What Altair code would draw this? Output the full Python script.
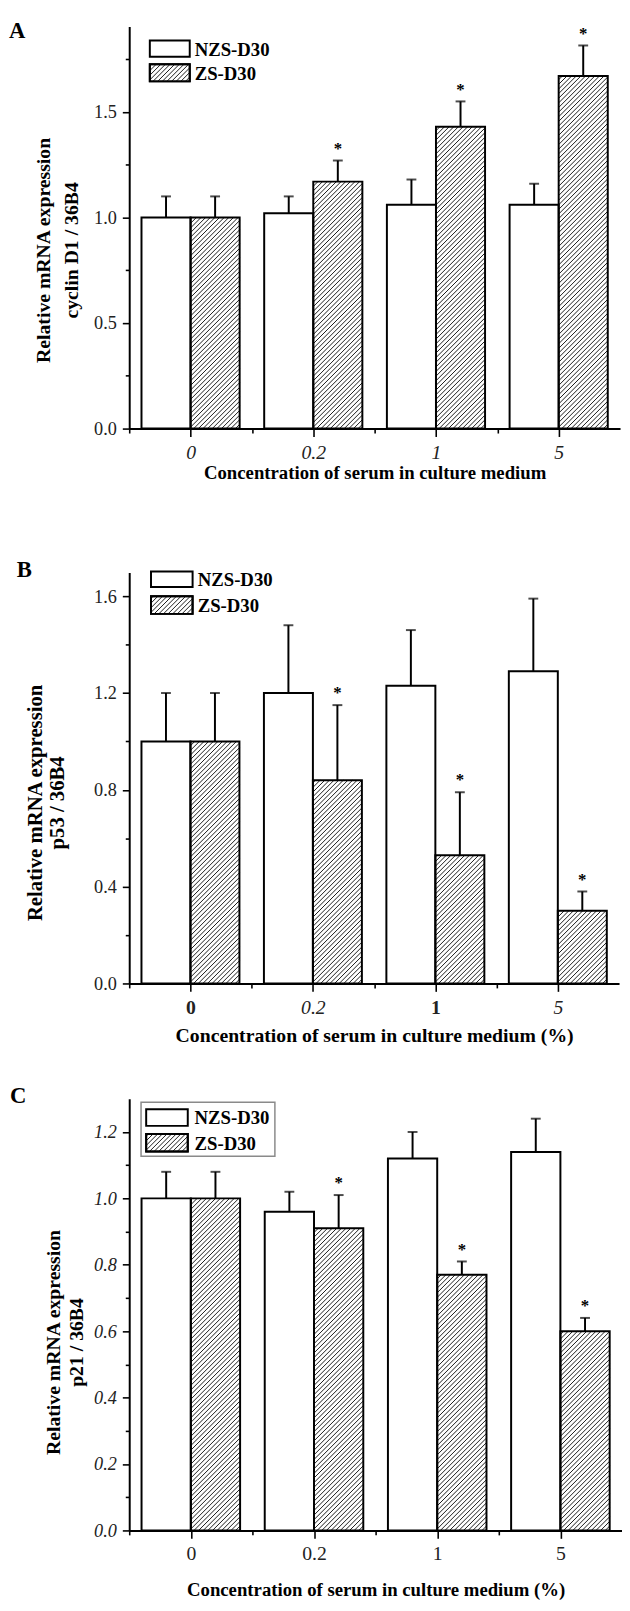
import json
import math
import altair as alt
import pandas as pd

# ---------------- data ----------------
groups = ["0", "0.2", "1", "5"]
series = ["NZS-D30", "ZS-D30"]

# Panel A: cyclin D1 / 36B4
a_nzs = [1.00, 1.02, 1.06, 1.06]
a_nzs_sd = [0.10, 0.08, 0.12, 0.10]
a_zs = [1.00, 1.17, 1.43, 1.67]
a_zs_sd = [0.10, 0.10, 0.12, 0.145]
a_star = [0, 1, 1, 1]

# Panel B: p53 / 36B4
b_nzs = [1.00, 1.20, 1.23, 1.29]
b_nzs_sd = [0.20, 0.28, 0.23, 0.30]
b_zs = [1.00, 0.84, 0.53, 0.30]
b_zs_sd = [0.20, 0.31, 0.26, 0.08]
b_star = [0, 1, 1, 1]

# Panel C: p21 / 36B4
c_nzs = [1.00, 0.96, 1.12, 1.14]
c_nzs_sd = [0.08, 0.06, 0.08, 0.10]
c_zs = [1.00, 0.91, 0.77, 0.60]
c_zs_sd = [0.08, 0.10, 0.04, 0.04]
c_star = [0, 1, 1, 1]

a_yticks = [0, 0.25, 0.5, 0.75, 1.0, 1.25, 1.5, 1.75]
b_yticks = [0, 0.2, 0.4, 0.6, 0.8, 1.0, 1.2, 1.4, 1.6]
c_yticks = [0, 0.1, 0.2, 0.3, 0.4, 0.5, 0.6, 0.7, 0.8, 0.9, 1.0, 1.1, 1.2]

FONT = "Liberation Serif"
BW = 0.4          # bar width in band units
HATCH = 4.7       # horizontal hatch spacing (px)


def hatch_segments(wpx, hpx, d=HATCH):
    """45-degree '/' hatch lines inside a wpx x hpx box (y up)."""
    segs = []
    n0 = math.ceil(-wpx / d)
    n1 = math.floor(hpx / d)
    for n in range(n0, n1 + 1):
        c = n * d + 1.5
        xs = max(0.0, -c)
        xe = min(wpx, hpx - c)
        if xe - xs > 0.4:
            segs.append((xs, xs + c, xe, xe + c))
    return segs


def panel(letter, nzs, nzs_sd, zs, zs_sd, star, ymax, yticks, ystep, W, H,
          ytitle, xtitle, cell, leg, xstyle, ystyle, titles):
    kx = W / 4.0
    ky = H / ymax
    xs = alt.Scale(domain=[0, 4], nice=False, zero=False)
    ys = alt.Scale(domain=[0, ymax], nice=False, zero=False)

    rows = []
    for i, g in enumerate(groups):
        for s in range(2):
            v = (nzs if s == 0 else zs)[i]
            sd = (nzs_sd if s == 0 else zs_sd)[i]
            x0 = i + 0.5 - BW if s == 0 else i + 0.5
            rows.append(dict(group=g, series=series[s], x0=x0, x1=x0 + BW,
                             xc=x0 + BW / 2, val=v, top=v + sd, zero=0.0,
                             star="*" if (s == 1 and star[i]) else ""))
    df = pd.DataFrame(rows)

    hrows = []
    for r in rows:
        if r["series"] != series[1]:
            continue
        for (X1, Y1, X2, Y2) in hatch_segments(BW * kx, r["val"] * ky):
            hrows.append(dict(hx=r["x0"] + X1 / kx, hy=Y1 / ky,
                              hx2=r["x0"] + X2 / kx, hy2=Y2 / ky))
    hdf = pd.DataFrame(hrows)

    major_y = f"abs(datum.value/{ystep} - round(datum.value/{ystep})) < 0.001"
    yaxis = alt.Axis(
        values=yticks, labelExpr=f"{major_y} ? format(datum.value, '.1f') : ''",
        tickSize={"condition": {"test": major_y, "value": 7}, "value": 4},
        tickWidth=1.6, tickColor="black", domainWidth=2, domainColor="black",
        labelFont=FONT, labelFontSize=18.5, labelColor="#222",
        labelFontStyle=ystyle, labelPadding=6,
        title=ytitle, titleFont=FONT, titleFontSize=titles["yfs"],
        titleFontWeight="bold",
        titleColor="black", titleAngle=270, titleAlign="center",
        titleBaseline="middle", titleX=titles["ytx"], titleY=titles["yty"],
        titleLineHeight=titles["ylh"], grid=False)
    lab_arr = json.dumps(groups)
    major_x = "datum.value % 1 == 0.5"
    xaxis = alt.Axis(
        values=[0, 0.5, 1, 1.5, 2, 2.5, 3, 3.5],
        labelExpr=f"{major_x} ? {lab_arr}[floor(datum.value)] : ''",
        tickSize={"condition": {"test": major_x, "value": 8}, "value": 4.5},
        tickWidth=1.6, tickColor="black", domainWidth=2, domainColor="black",
        labelFont=FONT, labelFontSize=20, labelColor="#222",
        labelFontStyle=xstyle["style"], labelFontWeight=xstyle["weight"],
        labelPadding=xstyle["pad"], labelBaseline="middle",
        title=xtitle, titleFont=FONT, titleFontSize=titles["xfs"],
        titleFontWeight="bold", titleColor="black", titleBaseline="middle",
        titleY=titles["xty"], grid=False)

    X = lambda f: alt.X(f"{f}:Q", scale=xs, axis=xaxis)
    Y = lambda f: alt.Y(f"{f}:Q", scale=ys, axis=yaxis)

    base = alt.Chart(df)
    fills = base.mark_rect(fill="white", stroke=None).encode(
        x=X("x0"), x2="x1", y=Y("zero"), y2="val")
    hatch = alt.Chart(hdf).mark_rule(color="#1a1a1a", strokeWidth=1.0).encode(
        x=X("hx"), x2="hx2", y=Y("hy"), y2="hy2")
    outline = base.mark_rect(fillOpacity=0, stroke="black", strokeWidth=2).encode(
        x=X("x0"), x2="x1", y=Y("zero"), y2="val")
    err = base.mark_rule(color="black", strokeWidth=2).encode(
        x=X("xc"), y=Y("val"), y2="top")
    caps = base.mark_tick(color="black", orient="horizontal", size=10,
                          thickness=2).encode(x=X("xc"), y=Y("top"))
    stars = base.mark_text(font=FONT, fontSize=17, fontWeight="bold",
                           baseline="middle", dy=-12, color="black").encode(
        x=X("xc"), y=Y("top"), text="star:N")

    # legend drawn by hand (hatched swatch), pixel coordinates
    lx0, lx1 = leg["sx"]
    boxes = pd.DataFrame([
        dict(x=lx0, x2=lx1, y=leg["s1"][0], y2=leg["s1"][1]),
        dict(x=lx0, x2=lx1, y=leg["s2"][0], y2=leg["s2"][1]),
    ])
    lh = []
    for (X1, Y1, X2, Y2) in hatch_segments(lx1 - lx0, leg["s2"][1] - leg["s2"][0]):
        lh.append(dict(x=lx0 + X1, y=leg["s2"][1] - Y1, x2=lx0 + X2, y2=leg["s2"][1] - Y2))
    lhdf = pd.DataFrame(lh)
    ltext = pd.DataFrame([
        dict(x=leg["tx"], y=(leg["s1"][0] + leg["s1"][1]) / 2 + 1, t=series[0]),
        dict(x=leg["tx"], y=(leg["s2"][0] + leg["s2"][1]) / 2 + 1, t=series[1]),
    ])
    PX = lambda f: alt.X(f"{f}:Q", scale=None)
    PY = lambda f: alt.Y(f"{f}:Q", scale=None)
    layers = []
    if leg.get("frame"):
        fx0, fx1, fy0, fy1 = leg["frame"]
        frame = pd.DataFrame([dict(x=fx0, x2=fx1, y=fy0, y2=fy1)])
        layers.append(alt.Chart(frame).mark_rect(fill="white", stroke="#8a8a8a",
                                                 strokeWidth=1.5).encode(
            x=PX("x"), x2="x2", y=PY("y"), y2="y2"))
    layers += [
        alt.Chart(boxes).mark_rect(fill="white", stroke="black", strokeWidth=2).encode(
            x=PX("x"), x2="x2", y=PY("y"), y2="y2"),
        alt.Chart(lhdf).mark_rule(color="#1a1a1a", strokeWidth=1.0).encode(
            x=PX("x"), x2="x2", y=PY("y"), y2="y2"),
        alt.Chart(boxes.iloc[1:]).mark_rect(fillOpacity=0, stroke="black",
                                            strokeWidth=2).encode(
            x=PX("x"), x2="x2", y=PY("y"), y2="y2"),
        alt.Chart(ltext).mark_text(font=FONT, fontSize=19, fontWeight="bold",
                                   align="left", baseline="middle",
                                   color="black").encode(
            x=PX("x"), y=PY("y"), text="t:N"),
    ]

    one = pd.DataFrame([{"k": 0}])
    spacer = alt.Chart(one).mark_rect(opacity=0).encode(
        x=alt.value(cell[0]), x2=alt.value(W), y=alt.value(cell[1]),
        y2=alt.value(cell[2]))
    lab = alt.Chart(one).mark_text(font=FONT, fontSize=23, fontWeight="bold",
                                   align="left", baseline="alphabetic",
                                   color="black", text=letter).encode(
        x=alt.value(cell[0] + 0.5), y=alt.value(cell[3]))

    return alt.layer(spacer, fills, hatch, outline, err, caps, stars,
                     *layers, lab).properties(width=W, height=H)


pa = panel("A", a_nzs, a_nzs_sd, a_zs, a_zs_sd, a_star, 1.905, a_yticks, 0.5,
           498, 408, ["Relative mRNA expression", "cyclin D1 / 36B4"],
           "Concentration of serum in culture medium",
           cell=(-122.6, -7, 525, 11.5),
           leg=dict(sx=(20.9, 61.4), s1=(14.3, 30.7), s2=(38.3, 55.7), tx=66.4),
           xstyle=dict(style="italic", weight="normal", pad=16),
           ystyle="normal",
           titles=dict(ytx=-86.6, yty=226.7, ylh=28, yfs=20, xfs=19, xty=44.7))

pb = panel("B", b_nzs, b_nzs_sd, b_zs, b_zs_sd, b_star, 1.698, b_yticks, 0.4,
           497, 417, ["Relative mRNA expression", "p53 / 36B4"],
           "Concentration of serum in culture medium (%)",
           cell=(-114.5, -28.2, 506.8, 5.0),
           leg=dict(sx=(22.1, 64.3), s1=(-1.0, 14.8), s2=(24.1, 42.0), tx=69.5),
           xstyle=dict(
               style={"condition": {"test": "datum.value == 1.5 || datum.value == 3.5",
                                    "value": "italic"}, "value": "normal"},
               weight={"condition": {"test": "datum.value == 0.5 || datum.value == 2.5",
                                     "value": "bold"}, "value": "normal"},
               pad=16),
           ystyle="normal",
           titles=dict(ytx=-95.2, yty=233.3, ylh=23, yfs=21, xfs=20, xty=52.6))

pc = panel("C", c_nzs, c_nzs_sd, c_zs, c_zs_sd, c_star, 1.30, c_yticks, 0.2,
           500, 438, ["Relative mRNA expression", "p21 / 36B4"],
           "Concentration of serum in culture medium (%)",
           cell=(-121.4, -26.9, 509, 4.1),
           leg=dict(sx=(17.2, 59.4), s1=(10.7, 27.5), s2=(35.8, 53.6), tx=66.3,
                    frame=(12.0, 147.8, 3.6, 58.3)),
           xstyle=dict(style="normal", weight="normal", pad=16),
           ystyle="italic",
           titles=dict(ytx=-77.2, yty=246.8, ylh=24, yfs=20, xfs=19, xty=59.8))

chart = alt.concat(pa, pb, pc, columns=1).properties(
    align="none", spacing=0, bounds="full", padding=0
).configure_view(stroke=None).configure_axis(grid=False)

chart.save("out.html", embed_options={"renderer": "svg", "actions": False})
